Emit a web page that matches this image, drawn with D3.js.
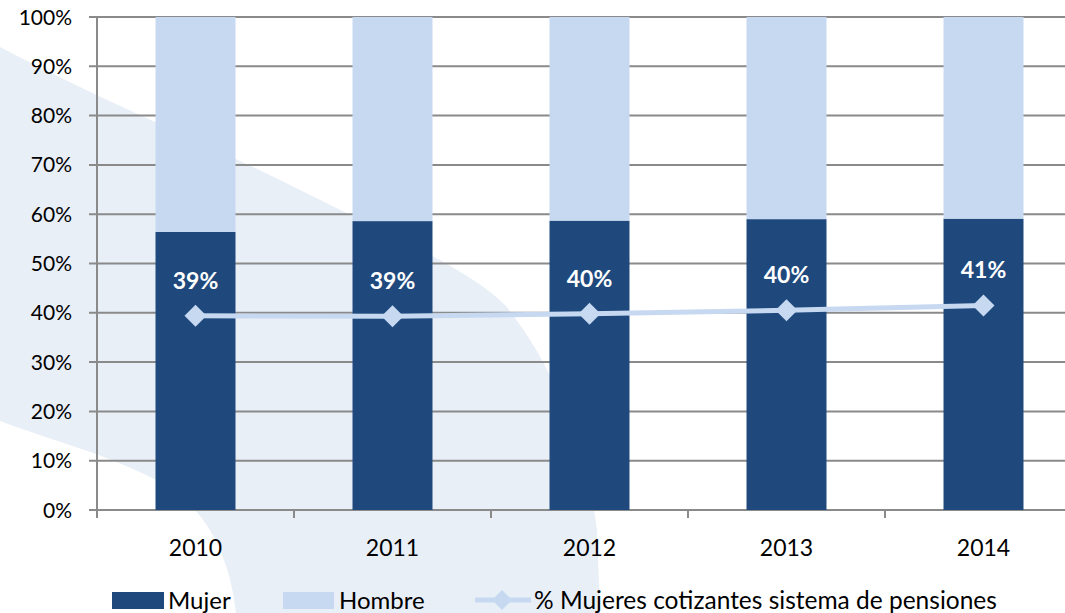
<!DOCTYPE html>
<html>
<head>
<meta charset="utf-8">
<script src="https://cdn.jsdelivr.net/npm/d3@7"></script>
<style>
  body { margin: 0; background: #fff; }
  svg { display: block; font-family: Lato, "Open Sans", sans-serif; }
</style>
</head>
<body>
<div id="chart"></div>
<script>
const years = ["2010", "2011", "2012", "2013", "2014"]
const mujer = [56.4, 58.6, 58.7, 59.0, 59.1]
const hombre = [43.6, 41.4, 41.3, 41.0, 40.9]
const cotizantes = [39.4, 39.3, 39.8, 40.5, 41.5]
const cotizantesLabels = ["39%", "39%", "40%", "40%", "41%"]
const yTicks = [0, 10, 20, 30, 40, 50, 60, 70, 80, 90, 100]

const WIDTH = 1065
const HEIGHT = 613
const LEFT = 97, RIGHT = 1082, TOP = 17, BOTTOM = 510

const svg = d3.select("#chart").append("svg")
  .attr("width", WIDTH)
  .attr("height", HEIGHT)

// faint watermark swoosh behind the chart
svg.append("path")
  .attr("d", "M0,47 C100,100 200,140 300,190 C400,240 470,270 505,305 C550,360 585,440 597,530 L600,613 L236,613 C230,560 210,510 160,482 C110,455 50,440 0,421 Z")
  .attr("fill", "#E9EFF7")

const x = d3.scaleBand()
  .domain(years)
  .range([LEFT, RIGHT])
  .paddingInner(0.594)
  .paddingOuter(0.297)

const y = d3.scaleLinear()
  .domain([0, 100])
  .range([BOTTOM, TOP])

// gridlines
svg.append("g").selectAll("line")
  .data(yTicks)
  .enter().append("line")
  .attr("x1", LEFT - 8)
  .attr("x2", WIDTH)
  .attr("y1", d => y(d))
  .attr("y2", d => y(d))
  .attr("stroke", "#8a8a8a")
  .attr("stroke-width", 2)

// y axis line
svg.append("line")
  .attr("x1", LEFT).attr("x2", LEFT)
  .attr("y1", TOP).attr("y2", BOTTOM + 8)
  .attr("stroke", "#8a8a8a")
  .attr("stroke-width", 2)

// x ticks at band edges
const step = x.step()
svg.append("g").selectAll("line")
  .data(d3.range(years.length))
  .enter().append("line")
  .attr("x1", i => LEFT + i * step)
  .attr("x2", i => LEFT + i * step)
  .attr("y1", BOTTOM)
  .attr("y2", BOTTOM + 8)
  .attr("stroke", "#8a8a8a")
  .attr("stroke-width", 2)

// y tick labels
svg.append("g").selectAll("text")
  .data(yTicks)
  .enter().append("text")
  .attr("x", 72)
  .attr("y", d => y(d) + 7.5)
  .attr("text-anchor", "end")
  .attr("font-size", 21)
  .attr("fill", "#000")
  .text(d => d + "%")

// x labels
svg.append("g").selectAll("text")
  .data(years)
  .enter().append("text")
  .attr("x", d => x(d) + x.bandwidth() / 2)
  .attr("y", 556)
  .attr("text-anchor", "middle")
  .attr("font-size", 23)
  .attr("fill", "#000")
  .text(d => d)

// stacked bars
svg.append("g").selectAll("rect")
  .data(years)
  .enter().append("rect")
  .attr("x", d => x(d))
  .attr("width", x.bandwidth())
  .attr("y", (d, i) => y(mujer[i]))
  .attr("height", (d, i) => y(0) - y(mujer[i]))
  .attr("fill", "#1F497D")

svg.append("g").selectAll("rect")
  .data(years)
  .enter().append("rect")
  .attr("x", d => x(d))
  .attr("width", x.bandwidth())
  .attr("y", (d, i) => y(mujer[i] + hombre[i]))
  .attr("height", (d, i) => y(mujer[i]) - y(mujer[i] + hombre[i]))
  .attr("fill", "#C6D9F1")

// line with diamond markers
const pts = years.map((d, i) => [x(d) + x.bandwidth() / 2, y(cotizantes[i])])
svg.append("path")
  .attr("d", d3.line()(pts))
  .attr("fill", "none")
  .attr("stroke", "#C6D9F1")
  .attr("stroke-width", 5)

const diamond = r => `M0,${-r}L${r},0L0,${r}L${-r},0Z`
svg.append("g").selectAll("path")
  .data(pts)
  .enter().append("path")
  .attr("d", diamond(11))
  .attr("transform", d => `translate(${d[0]},${d[1]})`)
  .attr("fill", "#C6D9F1")

// data labels
svg.append("g").selectAll("text")
  .data(pts)
  .enter().append("text")
  .attr("x", d => d[0])
  .attr("y", d => d[1] - 27)
  .attr("text-anchor", "middle")
  .attr("font-size", 23)
  .attr("font-weight", "bold")
  .attr("fill", "#fff")
  .text((d, i) => cotizantesLabels[i])

// legend
const legend = svg.append("g")
const ly = 600
legend.append("rect").attr("x", 112).attr("y", ly - 8).attr("width", 52).attr("height", 17).attr("fill", "#1F497D")
legend.append("text").attr("x", 168).attr("y", ly + 9).attr("font-size", 24).text("Mujer")
legend.append("rect").attr("x", 283).attr("y", ly - 8).attr("width", 51).attr("height", 17).attr("fill", "#C6D9F1")
legend.append("text").attr("x", 339).attr("y", ly + 9).attr("font-size", 24).text("Hombre")
legend.append("line").attr("x1", 475).attr("x2", 531).attr("y1", ly).attr("y2", ly)
  .attr("stroke", "#C6D9F1").attr("stroke-width", 5)
legend.append("path").attr("d", diamond(10)).attr("transform", `translate(502,${ly})`).attr("fill", "#C6D9F1")
legend.append("text").attr("x", 534).attr("y", ly + 9).attr("font-size", 24.5).text("% Mujeres cotizantes sistema de pensiones")
</script>
</body>
</html>
